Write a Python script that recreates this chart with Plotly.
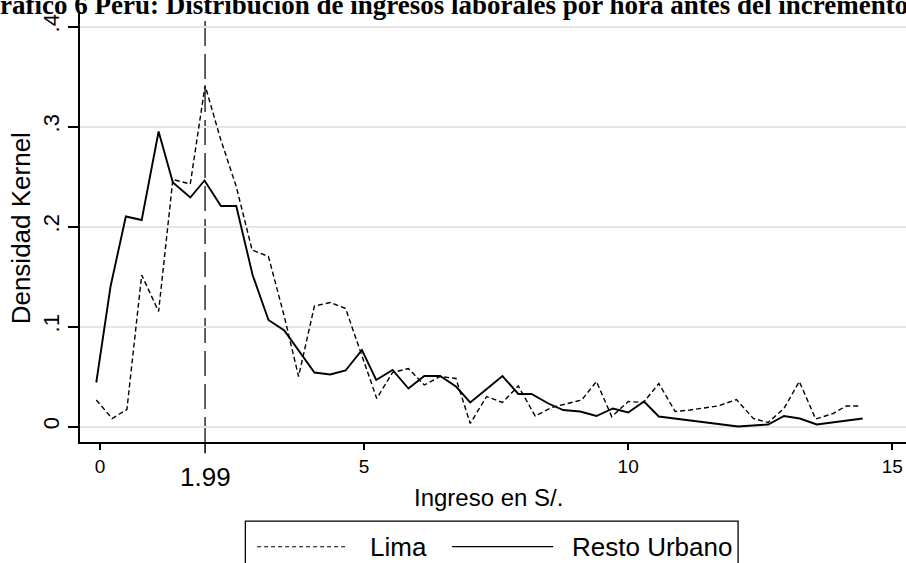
import plotly.graph_objects as go

# ---------------- data ----------------
lima_x = [-0.07, 0.23, 0.51, 0.79, 1.11, 1.38, 1.71, 1.99, 2.28, 2.58, 2.88, 3.19, 3.49, 3.76,
          4.06, 4.36, 4.65, 5.24, 5.54, 5.84, 6.14, 6.44, 6.74, 7.01, 7.32, 7.62, 7.92, 8.24,
          8.55, 8.84, 9.12, 9.40, 9.69, 10.0, 10.29, 10.58, 10.89, 11.17, 11.39, 11.70, 12.05,
          12.37, 12.65, 12.95, 13.24, 13.55, 13.88, 14.13, 14.37]
lima_y = [0.0265, 0.008, 0.017, 0.1515, 0.115, 0.247, 0.2425, 0.341, 0.288, 0.240, 0.1765, 0.170,
          0.110, 0.050, 0.1205, 0.124, 0.118, 0.028, 0.054, 0.058, 0.0415, 0.050, 0.048, 0.003,
          0.030, 0.024, 0.0405, 0.0105, 0.019, 0.023, 0.0265, 0.045, 0.0098, 0.025, 0.024, 0.043,
          0.015, 0.0165, 0.018, 0.0205, 0.027, 0.008, 0.004, 0.018, 0.045, 0.0075, 0.013, 0.0205,
          0.0205]

resto_x = [-0.07, 0.20, 0.49, 0.79, 1.11, 1.38, 1.71, 1.98, 2.29, 2.58, 2.89, 3.19, 3.49, 4.06,
           4.36, 4.65, 4.96, 5.23, 5.54, 5.84, 6.14, 6.44, 6.74, 7.01, 7.31, 7.62, 7.92, 8.17,
           8.49, 8.77, 9.09, 9.40, 9.71, 10.0, 10.30, 10.58, 12.08, 12.65, 12.95, 13.25, 13.57,
           14.44]
resto_y = [0.044, 0.140, 0.210, 0.2065, 0.295, 0.244, 0.229, 0.246, 0.2205, 0.2205, 0.1515, 0.1065,
           0.096, 0.054, 0.052, 0.056, 0.0765, 0.0465, 0.0565, 0.038, 0.0505, 0.0505, 0.040, 0.024,
           0.037, 0.0505, 0.0325, 0.0325, 0.023, 0.0165, 0.015, 0.0105, 0.018, 0.014, 0.025, 0.010,
           0.0, 0.002, 0.0105, 0.008, 0.002, 0.008]

series_names = ["Lima", "Resto Urbano"]
ref_line_x = [1.99]
ref_line_label = ["1.99"]
x_tickvals = [0, 5, 10, 15]
x_ticktext = ["0", "5", "10", "15"]
y_tickvals = [0, 0.1, 0.2, 0.3, 0.4]
y_ticktext = ["0", ".1", ".2", ".3", ".4"]
title_text = "Gráfico 6 Perú: Distribución de ingresos laborales por hora antes del incremento"
x_title = "Ingreso en S/."
y_title = "Densidad Kernel"

SANS = "Liberation Sans, Arial, sans-serif"
SERIF = "Liberation Serif, Times New Roman, serif"

fig = go.Figure()
fig.add_trace(go.Scatter(x=lima_x, y=lima_y, mode="lines", name=series_names[0],
                         line=dict(color="black", width=1.4, dash="5px,3px"), showlegend=False))
fig.add_trace(go.Scatter(x=resto_x, y=resto_y, mode="lines", name=series_names[1],
                         line=dict(color="black", width=1.9), showlegend=False))

shapes = []
annotations = []

# reference vertical dashed line at 1.99 + its tick
for xv, lab in zip(ref_line_x, ref_line_label):
    shapes.append(dict(type="line", xref="x", yref="paper", x0=xv, x1=xv, y0=0, y1=1,
                       line=dict(color="#3c3c3c", width=1.6, dash="25px,8px"), layer="below"))
    shapes.append(dict(type="line", xref="x", yref="paper", x0=xv, x1=xv, y0=0, y1=-0.026,
                       line=dict(color="black", width=1.5)))
    annotations.append(dict(text=lab, xref="x", yref="paper", x=xv, y=-0.081,
                            xanchor="center", yanchor="middle", showarrow=False,
                            font=dict(family=SANS, size=26, color="black")))

# title (cropped at top, as in the source)
annotations.append(dict(text="<b>" + title_text + "</b>", xref="paper", yref="paper",
                        x=0.4398, y=0.976, xanchor="center", yanchor="bottom", showarrow=False,
                        font=dict(family=SERIF, size=27, color="black")))
# axis titles
annotations.append(dict(text=x_title, xref="paper", yref="paper", x=0.494, y=-0.130,
                        xanchor="center", yanchor="middle", showarrow=False,
                        font=dict(family=SANS, size=24, color="black")))
annotations.append(dict(text=y_title, xref="paper", yref="paper", x=-0.071, y=0.4977,
                        xanchor="center", yanchor="middle", showarrow=False, textangle=-90,
                        font=dict(family=SANS, size=26, color="black")))

# manual Stata-style legend
shapes.append(dict(type="rect", xref="paper", yref="paper", x0=0.2002, x1=0.7967,
                   y0=-0.32, y1=-0.184, line=dict(color="black", width=1.3),
                   fillcolor="white"))
leg_y = -0.2435
shapes.append(dict(type="line", xref="paper", yref="paper", x0=0.2144, x1=0.3212,
                   y0=leg_y, y1=leg_y, line=dict(color="black", width=1.1, dash="4px,3px")))
shapes.append(dict(type="line", xref="paper", yref="paper", x0=0.4503, x1=0.5729,
                   y0=leg_y, y1=leg_y, line=dict(color="black", width=1.3)))
annotations.append(dict(text=series_names[0], xref="paper", yref="paper", x=0.349, y=leg_y,
                        xanchor="left", yanchor="middle", showarrow=False,
                        font=dict(family=SANS, size=26, color="black")))
annotations.append(dict(text=series_names[1], xref="paper", yref="paper", x=0.5935, y=leg_y,
                        xanchor="left", yanchor="middle", showarrow=False,
                        font=dict(family=SANS, size=26, color="black")))

fig.update_layout(
    width=906, height=563,
    margin=dict(l=80, r=0, t=12, b=121, pad=0),
    paper_bgcolor="white", plot_bgcolor="white",
    shapes=shapes, annotations=annotations,
    showlegend=False,
    xaxis=dict(range=[-0.378, 15.26], tickmode="array", tickvals=x_tickvals, ticktext=x_ticktext,
               showgrid=False, zeroline=False, showline=True, linecolor="black", linewidth=1.6,
               ticks="outside", ticklen=6, tickwidth=1.5, tickcolor="black",
               tickfont=dict(family=SANS, size=19, color="black")),
    yaxis=dict(range=[-0.0155, 0.4145], tickmode="array", tickvals=y_tickvals, ticktext=y_ticktext,
               showgrid=True, gridcolor="#e6e6e6", gridwidth=1.6, zeroline=False,
               showline=True, linecolor="black", linewidth=1.6,
               ticks="outside", ticklen=10, tickwidth=1.5, tickcolor="black", tickangle=-90,
               tickfont=dict(family=SANS, size=22, color="black")),
)

fig.write_html("out.html")
